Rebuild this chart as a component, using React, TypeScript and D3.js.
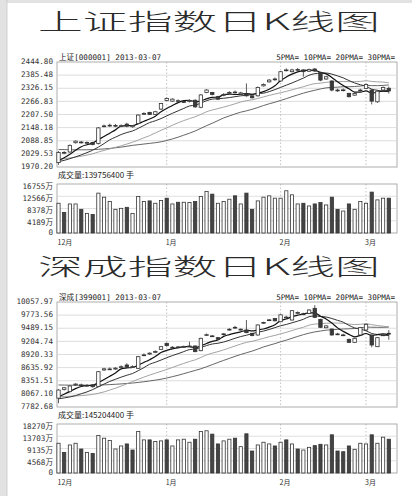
import React from "react";
import * as d3 from "d3";

// ---------- shared ----------
const monthLabels = ["12月", "1月", "2月", "3月"];
const monthIdx = [0, 19, 39, 54];
const N = 59;

// ---------- 上证 ----------
const shOpen = [1990,2033,2038,2080,2082,2080,2081,2076,2154,2158,2157,2156,2164,2152,2167,2210,2217,2208,2232,2271,2268,2268,2266,2268,2272,2240,2307,2307,2288,2296,2305,2308,2300,2300,2292,2292,2337,2355,2366,2359,2407,2401,2410,2409,2403,2413,2398,2368,2359,2317,2318,2303,2295,2316,2325,2318,2265,2318,2326];
const shHigh = [2042,2042,2072,2090,2088,2086,2084,2150,2162,2166,2165,2163,2170,2160,2208,2218,2220,2224,2260,2284,2281,2276,2272,2276,2276,2300,2322,2310,2292,2304,2313,2316,2310,2348,2294,2334,2348,2368,2375,2404,2416,2414,2418,2412,2415,2418,2400,2382,2362,2324,2325,2306,2308,2324,2347,2322,2318,2334,2334];
const shLow = [1980,2028,2035,2076,2076,2074,2068,2072,2150,2152,2150,2150,2150,2148,2163,2205,2205,2205,2228,2268,2264,2263,2260,2262,2238,2236,2304,2294,2273,2290,2300,2302,2296,2288,2280,2288,2334,2352,2360,2356,2402,2398,2404,2378,2400,2400,2358,2364,2312,2310,2312,2284,2292,2312,2322,2253,2260,2314,2302];
const shClose = [2036,2036,2068,2087,2083,2081,2072,2147,2156,2159,2158,2157,2155,2157,2205,2212,2208,2220,2257,2280,2277,2270,2265,2270,2242,2296,2318,2298,2277,2298,2307,2309,2305,2292,2283,2330,2343,2363,2368,2401,2409,2409,2411,2401,2410,2404,2363,2378,2318,2318,2319,2288,2303,2318,2343,2268,2313,2330,2314];
const shMA5 = [2000,2012,2028,2046,2062,2071,2078,2094,2108,2123,2138,2155,2157,2157,2166,2177,2187,2200,2220,2235,2248,2261,2270,2272,2265,2269,2278,2285,2286,2297,2300,2298,2299,2302,2299,2304,2311,2322,2337,2361,2377,2390,2400,2406,2408,2407,2398,2391,2375,2356,2339,2324,2309,2309,2314,2304,2309,2314,2314];
const shMA10 = [1995,2000,2008,2016,2025,2035,2046,2060,2076,2093,2105,2117,2126,2133,2145,2158,2171,2179,2189,2201,2213,2224,2235,2246,2250,2259,2270,2277,2279,2281,2284,2288,2292,2294,2298,2302,2304,2311,2320,2330,2340,2350,2361,2372,2385,2392,2394,2395,2390,2382,2373,2361,2350,2342,2335,2322,2317,2312,2311];
const shMA20 = [2005,2008,2011,2015,2019,2024,2030,2038,2045,2052,2059,2066,2074,2082,2092,2102,2112,2124,2136,2147,2159,2170,2180,2189,2197,2208,2220,2228,2234,2241,2248,2256,2264,2270,2274,2280,2287,2294,2300,2306,2312,2319,2326,2333,2341,2347,2349,2353,2355,2356,2357,2356,2356,2357,2360,2357,2355,2354,2351];
const shMA30 = [2049,2049,2048,2048,2048,2048,2049,2050,2052,2054,2057,2060,2064,2068,2071,2074,2077,2080,2084,2090,2097,2105,2114,2123,2133,2145,2157,2168,2180,2192,2201,2210,2218,2224,2231,2239,2248,2256,2263,2271,2279,2288,2296,2304,2311,2317,2323,2328,2330,2331,2333,2333,2334,2336,2339,2338,2338,2339,2341];
const shVol = [10169,7049,9937,9937,8089,6702,6355,13635,12249,10746,8089,8435,8782,6702,12480,10746,10977,10169,11093,11902,9937,10515,10515,10400,10746,12480,14213,13288,10169,10746,11555,12711,9937,13635,8089,10977,12249,12711,11902,11902,14444,13057,9937,10169,9244,9937,10400,9591,12249,8089,7511,9937,8089,10746,10169,13982,11324,11902,11902];
const shVolDown = [0,1,0,0,1,0,1,0,0,0,0,0,1,0,0,0,1,0,0,1,0,1,0,0,1,0,0,1,0,0,0,1,0,1,1,0,0,0,0,0,0,0,0,1,0,1,1,0,1,1,0,1,0,0,0,1,0,0,1];
const shPriceTicks = [1970.20, 2029.53, 2088.85, 2148.18, 2207.50, 2266.83, 2326.15, 2385.48, 2444.80];
const shVolTicks = [0, 4189, 8378, 12566, 16755];

// ---------- 深成 ----------
const szOpen = [7975,8165,8115,8260,8255,8248,8262,8230,8585,8603,8605,8652,8693,8654,8621,8906,8930,8978,9032,9162,9072,9084,9088,9100,9105,9003,9340,9320,9285,9352,9462,9505,9455,9451,9379,9343,9600,9660,9700,9630,9725,9668,9825,9800,9812,9921,9682,9500,9473,9362,9343,9249,9184,9343,9451,9343,9090,9340,9380];
const szHigh = [8170,8215,8250,8295,8290,8280,8275,8560,8632,8640,8645,8685,8730,8685,8890,8945,8965,9010,9105,9180,9100,9105,9115,9198,9115,9285,9375,9345,9300,9385,9490,9540,9485,9668,9390,9575,9630,9690,9712,9795,9760,9885,9855,9825,9900,9990,9695,9555,9480,9390,9370,9260,9285,9515,9590,9350,9300,9370,9450];
const szLow = [7865,8140,8100,8245,8235,8225,8205,8215,8568,8585,8590,8630,8632,8630,8605,8885,8910,8960,9020,9090,9050,9060,9070,9085,8970,8990,9320,9300,9235,9335,9440,9480,9440,9385,9315,9330,9585,9645,9640,9620,9700,9655,9800,9775,9800,9710,9495,9490,9330,9340,9320,9170,9170,9330,9440,9076,9080,9320,9240];
const szClose = [8150,8200,8238,8280,8262,8252,8222,8548,8610,8607,8625,8656,8648,8658,8873,8912,8950,8984,9090,9112,9078,9078,9092,9105,8982,9271,9350,9324,9250,9368,9467,9509,9468,9393,9330,9560,9615,9672,9650,9780,9730,9870,9830,9796,9885,9726,9509,9540,9343,9366,9345,9184,9271,9502,9574,9126,9285,9345,9370];
const szMA5 = [8010,8060,8120,8180,8226,8246,8251,8313,8379,8448,8522,8609,8629,8639,8692,8749,8808,8875,8962,9010,9043,9068,9090,9093,9067,9106,9160,9206,9235,9313,9352,9384,9412,9441,9433,9452,9473,9514,9565,9655,9689,9740,9772,9801,9822,9821,9749,9691,9601,9497,9421,9356,9302,9334,9375,9331,9352,9366,9340];
const szMA10 = [7960,7980,8000,8030,8070,8110,8160,8220,8280,8337,8384,8430,8471,8509,8570,8636,8709,8752,8800,8851,8896,8938,8983,9027,9038,9074,9114,9148,9164,9190,9229,9272,9309,9338,9373,9402,9428,9463,9503,9544,9571,9607,9643,9683,9739,9755,9745,9732,9701,9660,9621,9552,9497,9467,9436,9376,9354,9334,9337];
const szMA20 = [8010,8012,8016,8022,8030,8040,8055,8080,8110,8150,8190,8235,8285,8335,8385,8430,8475,8515,8555,8594,8640,8684,8727,8768,8804,8855,8911,8950,8982,9020,9062,9105,9146,9183,9206,9238,9271,9306,9334,9367,9400,9439,9476,9511,9556,9579,9587,9597,9602,9602,9596,9580,9570,9575,9587,9566,9549,9533,9519];
const szMA30 = [8260,8258,8256,8255,8255,8255,8256,8258,8262,8268,8275,8283,8292,8302,8315,8330,8347,8365,8385,8410,8440,8470,8505,8540,8575,8610,8655,8700,8748,8793,8836,8880,8921,8958,8994,9037,9084,9121,9156,9195,9232,9272,9312,9350,9383,9410,9429,9448,9456,9465,9473,9477,9483,9496,9516,9511,9509,9510,9514];
const szVol = [11088,7686,10458,11088,8946,7686,7308,13986,12978,12096,8946,10080,10836,8568,15498,12348,12348,11718,11970,12348,10080,12348,12600,11466,12600,15498,15750,14490,10836,11970,12600,12978,9828,14616,8190,10458,11466,10836,10080,11466,12348,10836,8946,8568,9576,10206,10710,10458,14238,8190,7938,10080,8820,11088,10836,14238,11088,13356,12600];
const szVolDown = [0,1,0,0,1,0,1,0,0,0,0,0,1,1,0,0,1,0,0,1,0,0,0,0,1,0,0,1,1,0,0,1,0,1,1,0,0,0,1,0,1,0,1,0,0,1,1,0,1,1,1,1,0,0,0,1,0,0,1];
const szPriceTicks = [7782.68, 8067.10, 8351.51, 8635.92, 8920.33, 9204.74, 9489.15, 9773.56, 10057.97];
const szVolTicks = [0, 4568, 9135, 13703, 18270];

const MONO = "'DejaVu Sans Mono', 'Noto Sans CJK SC', monospace";
const CJK = "'Noto Sans CJK SC', sans-serif";

type PanelProps = {
  title: string;
  titleY: number;
  header: string;
  volText: string;
  open: number[]; high: number[]; low: number[]; close: number[];
  ma5: number[]; ma10: number[]; ma20: number[]; ma30: number[];
  vol: number[]; volDown: number[];
  priceTicks: number[]; volTicks: number[];
  pTop: number; pBot: number; vTop: number; vBot: number;
};

const LEFT = 57, RIGHT = 397;

function KPanel(p: PanelProps) {
  const x = d3.scaleLinear().domain([0, N - 1]).range([58.5, 388.8]);
  const y = d3.scaleLinear().domain([p.priceTicks[0], p.priceTicks[p.priceTicks.length - 1]]).range([p.pBot, p.pTop]);
  const yv = d3.scaleLinear().domain([0, p.volTicks[p.volTicks.length - 1]]).range([p.vBot, p.vTop]);
  const idx = d3.range(N);
  const mk = (arr: number[]) => d3.line<number>().x((i) => x(i)).y((i) => y(arr[i])).curve(d3.curveMonotoneX)(idx) || "";
  const bw = 3.4;
  const vbw = 3.2;
  const fmt = (v: number) => v.toFixed(2);
  return (
    <g>
      <text x={38} y={p.titleY} fontFamily={CJK} fontSize={23} fontWeight={300} fill="#2a2a2a" textLength={342} lengthAdjust="spacingAndGlyphs">{p.title}</text>
      <text x={59} y={p.pTop - 2} fontFamily={MONO} fontSize={7.6} fill="#222">{p.header}</text>
      <text x={395} y={p.pTop - 2} fontFamily={MONO} fontSize={7.6} fill="#222" textAnchor="end">5PMA= 10PMA= 20PMA= 30PMA=</text>
      {/* price panel */}
      <rect x={LEFT} y={p.pTop} width={RIGHT - LEFT} height={p.pBot - p.pTop} fill="#fff" stroke="#999" strokeWidth={0.8} />
      {p.priceTicks.map((t, k) => (
        <g key={"pt" + k}>
          {k > 0 && k < p.priceTicks.length - 1 && <line x1={LEFT} x2={RIGHT} y1={y(t)} y2={y(t)} stroke="#d4d4d4" strokeWidth={0.8} />}
          <text x={53} y={y(t) - 0.5} dy="0.35em" fontFamily={MONO} fontSize={7.6} fill="#333" textAnchor="end">{fmt(t)}</text>
        </g>
      ))}
      {monthIdx.slice(1).map((m, k) => (
        <line key={"mv" + k} x1={x(m)} x2={x(m)} y1={p.pTop} y2={p.pBot} stroke="#aaa" strokeWidth={0.7} strokeDasharray="1.5,2" />
      ))}
      <path d={mk(p.ma30)} fill="none" stroke="#555" strokeWidth={0.9} />
      <path d={mk(p.ma20)} fill="none" stroke="#999" strokeWidth={0.9} />
      <path d={mk(p.ma10)} fill="none" stroke="#333" strokeWidth={1} />
      <path d={mk(p.ma5)} fill="none" stroke="#111" strokeWidth={1.2} />
      {idx.map((i) => {
        const o = p.open[i], c = p.close[i];
        const up = c >= o;
        const yt = y(Math.max(o, c)), yb = y(Math.min(o, c));
        const h = Math.max(yb - yt, 0.8);
        return (
          <g key={"c" + i}>
            <line x1={x(i)} x2={x(i)} y1={y(p.high[i])} y2={y(p.low[i])} stroke="#333" strokeWidth={0.8} />
            <rect x={x(i) - bw / 2} y={yt} width={bw} height={h} fill={up ? "#fff" : "#3a3a3a"} stroke="#333" strokeWidth={0.8} />
          </g>
        );
      })}
      {/* volume */}
      <text x={58} y={p.vTop - 6} fontFamily={CJK} fontSize={8} fill="#222">{p.volText}</text>
      <rect x={LEFT} y={p.vTop} width={RIGHT - LEFT} height={p.vBot - p.vTop} fill="#fff" stroke="#999" strokeWidth={0.8} />
      {p.volTicks.map((t, k) => (
        <g key={"vt" + k}>
          {k > 0 && k < p.volTicks.length - 1 && <line x1={LEFT} x2={RIGHT} y1={yv(t)} y2={yv(t)} stroke="#d8d8d8" strokeWidth={0.8} />}
          <text x={53} y={yv(t) + (k === 0 ? -1 : 2)} dy="0.35em" fontFamily={MONO} fontSize={7.6} fill="#333" textAnchor="end">{k === 0 ? "0" : t + "万"}</text>
        </g>
      ))}
      {monthIdx.slice(1).map((m, k) => (
        <line key={"vv" + k} x1={x(m)} x2={x(m)} y1={p.vTop} y2={p.vBot} stroke="#aaa" strokeWidth={0.7} strokeDasharray="1.5,2" />
      ))}
      {idx.map((i) => (
        <rect key={"v" + i} x={x(i) - vbw / 2} y={yv(p.vol[i])} width={vbw} height={p.vBot - yv(p.vol[i])} fill={p.volDown[i] ? "#444" : "#fff"} stroke="#333" strokeWidth={0.8} />
      ))}
      {monthIdx.map((m, k) => (
        <text key={"ml" + k} x={x(m) - 1} y={p.vBot + 12} fontFamily={CJK} fontSize={7} fill="#333">{monthLabels[k]}</text>
      ))}
    </g>
  );
}

export default function App() {
  return (
    <div style={{ position: "fixed", left: 0, top: 0, width: 412, height: 496, background: "#fff" }}>
      <svg width={412} height={496} viewBox="0 0 412 496" style={{ display: "block" }}>
        <rect x={0} y={0} width={412} height={496} fill="#fff" />
        <rect x={0} y={0} width={412} height={3} fill="#e2e2e2" />
        <rect x={0} y={0} width={7} height={496} fill="#e2e2e2" />
        <line x1={7} x2={7} y1={0} y2={496} stroke="#c8c8c8" strokeWidth={0.8} />
        <KPanel title="上证指数日K线图" titleY={30} header="上证[000001] 2013-03-07" volText="成交量:139756400 手"
          open={shOpen} high={shHigh} low={shLow} close={shClose}
          ma5={shMA5} ma10={shMA10} ma20={shMA20} ma30={shMA30}
          vol={shVol} volDown={shVolDown} priceTicks={shPriceTicks} volTicks={shVolTicks}
          pTop={62} pBot={167} vTop={184} vBot={233} />
        <KPanel title="深成指数日K线图" titleY={275} header="深成[399001] 2013-03-07" volText="成交量:145204400 手"
          open={szOpen} high={szHigh} low={szLow} close={szClose}
          ma5={szMA5} ma10={szMA10} ma20={szMA20} ma30={szMA30}
          vol={szVol} volDown={szVolDown} priceTicks={szPriceTicks} volTicks={szVolTicks}
          pTop={302} pBot={407} vTop={424} vBot={473} />
      </svg>
    </div>
  );
}
